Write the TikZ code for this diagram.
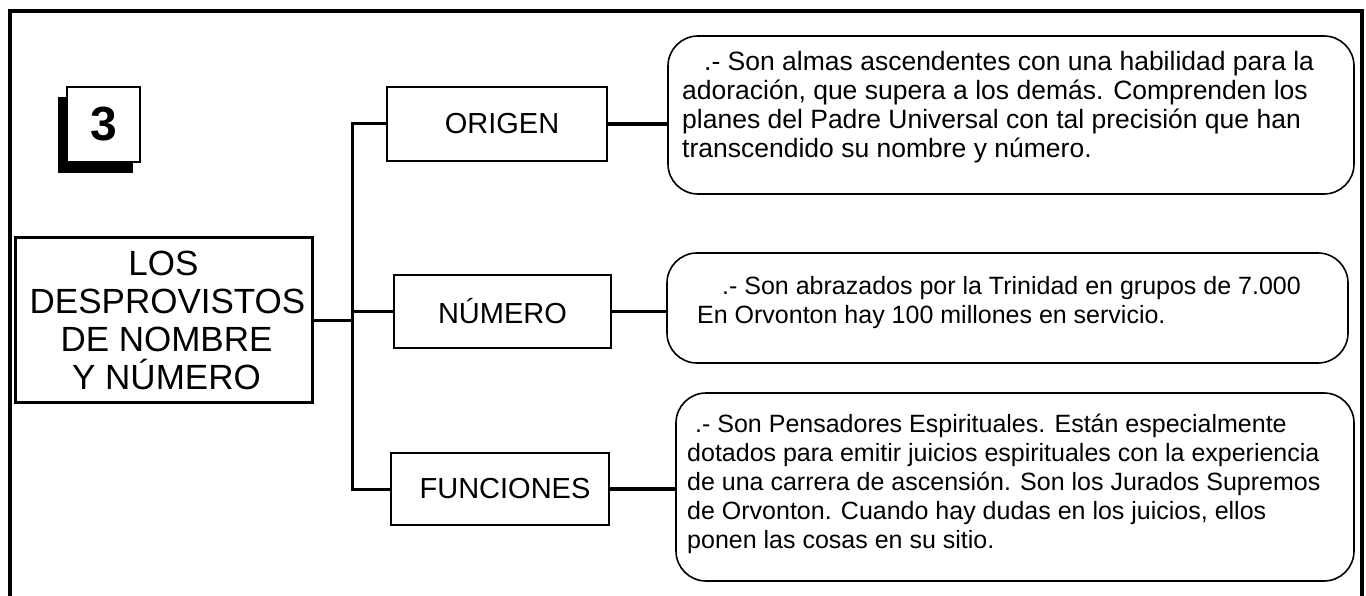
\documentclass[tikz,border=0pt]{standalone}
\usepackage{fontspec}
\setmainfont{Liberation Sans}
\begin{document}
\begin{tikzpicture}[x=1pt,y=-1pt,
  conn/.style={line width=3pt},
  connr/.style={line width=3.5pt},
  lbl/.style={draw,line width=1.3pt,inner sep=0pt,font=\fontsize{29}{33}\selectfont},
  descbox/.style={draw,line width=1.6pt,rounded corners=30pt,inner sep=0pt},
  desctext/.style={inner sep=0pt,align=left,anchor=west,font=\fontsize{25}{29}\selectfont},
]
\useasboundingbox (0,0) rectangle (1366,596);
% outer frame
\draw[line width=3.5pt] (10,600) -- (10,11) -- (1362,11) -- (1362,600);
% number box with shadow
\fill[black] (58,97) rectangle (133,173);
\node[draw,fill=white,line width=1.3pt,minimum width=73,minimum height=75,inner sep=0pt,font=\fontsize{48}{48}\selectfont\bfseries] (num) at (103.5,124.5) {3};
% main box
\node[draw,line width=3pt,minimum width=297,minimum height=164,inner sep=0pt,align=center,font=\fontsize{35}{38}\selectfont] (main) at (163.5,320) {LOS\\\hspace*{8pt}DESPROVISTOS\\\hspace*{6pt}DE NOMBRE\\\hspace*{6pt}Y NÚMERO};
% label boxes
\node[lbl,minimum width=220,minimum height=74] (origen) at (497,124) {\hspace*{10pt}ORIGEN};
\node[lbl,minimum width=217,minimum height=73] (numero) at (502.5,311.5) {NÚMERO};
\node[lbl,minimum width=218,minimum height=72] (funciones) at (500,489) {\hspace*{10pt}FUNCIONES};
% description boxes
\node[descbox,minimum width=686,minimum height=158] (d1) at (1011,115) {};
\node[desctext,font=\fontsize{26.5}{29}\selectfont] (d1t) at (682,107) {\hspace*{22pt}.- Son almas ascendentes con una habilidad para la\\adoración, que supera a los demás. Comprenden los\\planes del Padre Universal con tal precisión que han\\transcendido su nombre y número.};
\node[descbox,minimum width=681,minimum height=110] (d2) at (1007.5,308) {};
\node[desctext] (d2t) at (697,303) {\hspace*{25pt}.- Son abrazados por la Trinidad en grupos de 7.000\\En Orvonton hay 100 millones en servicio.};
\node[descbox,minimum width=678,minimum height=188] (d3) at (1015,487) {};
\node[desctext] (d3t) at (687,484) {\hspace*{8pt}.- Son Pensadores Espirituales. Están especialmente\\dotados para emitir juicios espirituales con la experiencia\\de una carrera de ascensión. Son los Jurados Supremos\\de Orvonton. Cuando hay dudas en los juicios, ellos\\ponen las cosas en su sitio.};
% connectors
\coordinate (tt) at (352,121);
\draw[conn] (origen.west) -- (origen.west -| tt) -- (funciones.west -| tt) -- (funciones.west);
\draw[conn] (numero.west) -- (numero.west -| tt);
\draw[conn] (main.east) -- (main.east -| tt);
\draw[connr] (origen.east) -- (origen.east -| d1.west);
\draw[connr] (numero.east) -- (numero.east -| d2.west);
\draw[connr] (funciones.east) -- (funciones.east -| d3.west);
\end{tikzpicture}
\end{document}
